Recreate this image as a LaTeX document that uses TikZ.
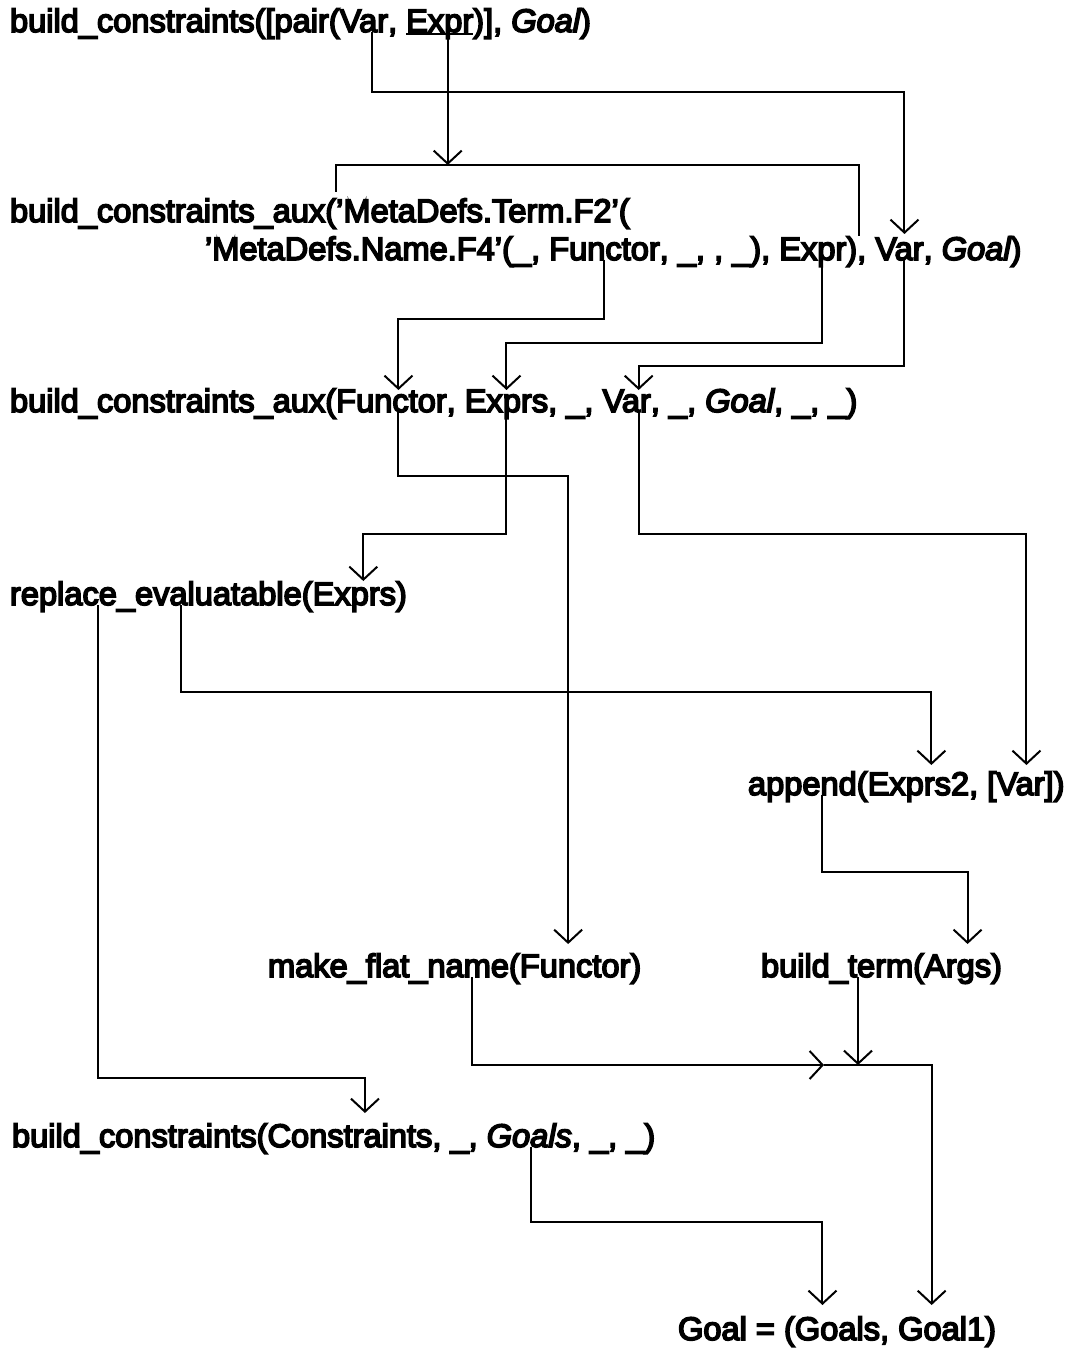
\documentclass[tikz,border=0pt]{standalone}
\usepackage{fontspec}
\newfontfamily\lab{Liberation Sans}[RawFeature={embolden=5}]
\usetikzlibrary{arrows.meta}

\tikzset{
  wd/.style={inner sep=0pt, outer sep=0pt, anchor=base west, text height=24pt, text depth=0pt,
    font=\lab\fontsize{32.6pt}{39pt}\selectfont},
  conn/.style={line width=2pt, line join=miter},
  arr/.style={conn, -{Straight Barb[length=13pt,width=28pt,line width=2pt]}},
}
% a word separator that survives the trailing-space removal in nodes
\newcommand\sepsp{\ \null}

\begin{document}
\begin{tikzpicture}[x=1pt,y=-1pt]
\useasboundingbox (0,0) rectangle (1074,1348);

% head clause
\node[wd] (n1a) at (10,32) {build\_constraints([pair(};
\node[wd] (n1var) at (n1a.base east) {Var};
\node[wd] (n1b) at (n1var.base east) {,\sepsp};
\node[wd] (n1expr) at (n1b.base east) {Expr};
\node[wd] (n1c) at (n1expr.base east) {)],\sepsp};
\node[wd] (n1goal) at (n1c.base east) {\itshape Goal};
\node[wd] (n1d) at (n1goal.base east) {)};
\draw[line width=2pt] ([yshift=-2pt]n1expr.base west) -- ([yshift=-2pt]n1expr.base east);

% first body call, two lines
\node[wd] (n2a) at (10,222) {build\_constraints\_aux(};
\node[wd] (n2term) at (n2a.base east) {’MetaDefs.Term.F2’(};

\node[wd] (n3a) at (205,260) {’MetaDefs.Name.F4’(\_,\sepsp};
\node[wd] (n3fun) at (n3a.base east) {Functor};
\node[wd] (n3b) at (n3fun.base east) {,\ \_,\ ,\ \_),\sepsp};
\node[wd] (n3expr) at (n3b.base east) {Expr};
\node[wd] (n3close) at (n3expr.base east) {)};
\node[wd] (n3c) at (n3close.base east) {,\sepsp};
\node[wd] (n3var) at (n3c.base east) {Var};
\node[wd] (n3d) at (n3var.base east) {,\sepsp};
\node[wd] (n3goal) at (n3d.base east) {\itshape Goal};
\node[wd] (n3e) at (n3goal.base east) {)};

% second call
\node[wd] (n4a) at (10,412) {build\_constraints\_aux(};
\node[wd] (n4fun) at (n4a.base east) {Functor};
\node[wd] (n4b) at (n4fun.base east) {,\sepsp};
\node[wd] (n4exprs) at (n4b.base east) {Exprs};
\node[wd] (n4c) at (n4exprs.base east) {,\ \_,\sepsp};
\node[wd] (n4var) at (n4c.base east) {Var};
\node[wd] (n4d) at (n4var.base east) {,\ \_,\sepsp};
\node[wd] (n4goal) at (n4d.base east) {\itshape Goal};
\node[wd] (n4e) at (n4goal.base east) {,\ \_,\ \_)};

% helper calls
\node[wd] (n5a) at (10,605) {replace\_evaluatable(};
\node[wd] (n5exprs) at (n5a.base east) {Exprs};
\node[wd] (n5b) at (n5exprs.base east) {)};

\node[wd] (n6a) at (748,795) {append(};
\node[wd] (n6exprs) at (n6a.base east) {Exprs2};
\node[wd] (n6b) at (n6exprs.base east) {,\ [};
\node[wd] (n6var) at (n6b.base east) {Var};
\node[wd] (n6c) at (n6var.base east) {])};

\node[wd] (n7a) at (268,977) {make\_flat\_name(};
\node[wd] (n7fun) at (n7a.base east) {Functor};
\node[wd] (n7b) at (n7fun.base east) {)};
\node[wd] (n7bt) at (761,977) {build\_term(};
\node[wd] (n7args) at (n7bt.base east) {Args};
\node[wd] (n7c) at (n7args.base east) {)};

\node[wd] (n8a) at (12,1147) {build\_constraints(};
\node[wd] (n8con) at (n8a.base east) {Constraints};
\node[wd] (n8b) at (n8con.base east) {,\ \_,\sepsp};
\node[wd] (n8goals) at (n8b.base east) {\itshape Goals};
\node[wd] (n8c) at (n8goals.base east) {,\ \_,\ \_)};

\node[wd] (n9a) at (678,1340) {Goal = (};
\node[wd] (n9goals) at (n9a.base east) {Goals};
\node[wd] (n9b) at (n9goals.base east) {,\sepsp};
\node[wd] (n9goal1) at (n9b.base east) {Goal1};
\node[wd] (n9c) at (n9goal1.base east) {)};

\coordinate (merge) at (824,1065);

% data flow
\coordinate (a0) at ([xshift=8pt]n1var.south);
\draw[arr] (a0) -- (a0 |- 0,92) -| ([xshift=5pt,yshift=2pt]n3var.north);

\coordinate (b0) at ([xshift=8pt]n1expr.south);
\draw[arr] (b0) -- (b0 |- 0,165);
\draw[conn] ([yshift=6pt]n2term.north west) -- (n2term.north west |- 0,165) -| ([xshift=7pt]n3close.north);

\coordinate (c0) at (n3fun.south);
\draw[arr] (c0) -- (c0 |- 0,319) -| ([xshift=7pt,yshift=-2pt]n4fun.north);

\coordinate (d0) at ([xshift=9pt]n3expr.south);
\draw[arr] (d0) -- (d0 |- 0,343) -| ([yshift=-2pt]n4exprs.north);

\coordinate (e0) at ([xshift=5pt]n3var.south);
\draw[arr] (e0) -- (e0 |- 0,366) -| ([xshift=12pt,yshift=-2pt]n4var.north);

\coordinate (f0) at ([xshift=7pt]n4fun.south);
\draw[arr] (f0) -- (f0 |- 0,476) -| ([xshift=-7pt,yshift=9pt]n7fun.north);

\coordinate (g0) at (n4exprs.south);
\draw[arr] (g0) -- (g0 |- 0,534) -| ([xshift=9pt]n5exprs.north);

\coordinate (h0) at ([xshift=12pt]n4var.south);
\draw[arr] (h0) -- (h0 |- 0,534) -| ([xshift=6pt,yshift=6pt]n6var.north);

\coordinate (i0) at ([xshift=171pt]n5a.south west);
\draw[arr] (i0) -- (i0 |- 0,692) -| ([xshift=13pt,yshift=6pt]n6exprs.north);

\coordinate (j0) at ([xshift=88pt]n5a.south west);
\draw[arr] (j0) -- (j0 |- 0,1078) -| ([xshift=15pt,yshift=10pt]n8con.north);

\coordinate (k0) at ([xshift=74pt]n6a.south west);
\draw[arr] (k0) -- (k0 |- 0,872) -| ([xshift=10pt,yshift=9pt]n7args.north);

\coordinate (l0) at ([xshift=204pt]n7a.south west);
\draw[arr] (l0) |- (merge);
\coordinate (l1) at ([xshift=97pt]n7bt.south west);
\draw[arr] (l1) -- (l1 |- merge);
\draw[arr] (merge) -| ([xshift=-10pt,yshift=11pt]n9goal1.north);

\coordinate (m0) at ([xshift=2pt]n8goals.south);
\draw[arr] (m0) -- (m0 |- 0,1222) -| ([xshift=-15pt,yshift=11pt]n9goals.north);
\end{tikzpicture}
\end{document}
